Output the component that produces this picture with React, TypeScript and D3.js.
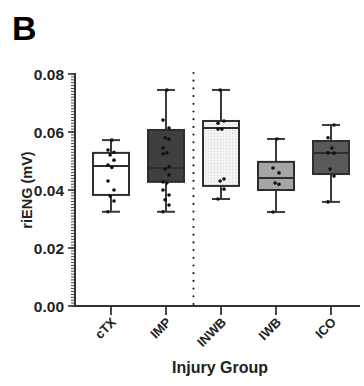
import React, {useRef, useEffect} from 'react'
import * as d3 from 'd3'

// box stats (mV)
const groups = ["cTX", "IMP", "INWB", "IWB", "ICO"]
const mins = [0.0325, 0.0325, 0.0369, 0.0324, 0.0359]
const q1s = [0.0383, 0.0428, 0.0414, 0.0400, 0.0455]
const medians = [0.0483, 0.0476, 0.0614, 0.0441, 0.0528]
const q3s = [0.0528, 0.0607, 0.0638, 0.0497, 0.0569]
const maxs = [0.0572, 0.0745, 0.0745, 0.0576, 0.0624]
const fills = ["#ffffff", "#3f3f3f", "#f1f1f1", "#a5a5a5", "#595959"]

// individual animals
const cTXPts = [0.0325, 0.0362, 0.0379, 0.0400, 0.0431, 0.0478, 0.0486, 0.0503, 0.0521, 0.0530, 0.0538, 0.0572]
const IMPPts = [0.0325, 0.0348, 0.0366, 0.0383, 0.0400, 0.0424, 0.0428, 0.0452, 0.0472, 0.0480, 0.0525, 0.0528, 0.0545, 0.0575, 0.0580, 0.0614, 0.0641, 0.0745]
const INWBPts = [0.0369, 0.0403, 0.0431, 0.0438, 0.0610, 0.0610, 0.0630, 0.0638, 0.0745]
const IWBPts = [0.0324, 0.0420, 0.0424, 0.0459, 0.0476, 0.0576]
const ICOPts = [0.0359, 0.0448, 0.0472, 0.0527, 0.0528, 0.0545, 0.0580, 0.0624]
const points = [cTXPts, IMPPts, INWBPts, IWBPts, ICOPts]

const yTicks = [0, 0.02, 0.04, 0.06, 0.08]

const layout = {width: 364, height: 386, left: 75, right: 360, top: 74, bottom: 306}
const font = '"Liberation Sans", Arial, sans-serif'

export default function App() {
  const ref = useRef<SVGSVGElement>(null)

  useEffect(() => {
    const svg = d3.select(ref.current)
    const g = svg.select("g")
    g.selectAll("*").remove()

    const y = d3.scaleLinear().domain([0, 0.08]).range([layout.bottom, layout.top])
    const x = d3.scalePoint().domain(groups).range([111, 331])
    const boxW = 36

    // separator between control and injury groups
    const sepX = (x("IMP")! + x("INWB")!) / 2
    g.append("line")
      .attr("x1", sepX).attr("x2", sepX)
      .attr("y1", y(0.08) - 1).attr("y2", y(0) - 2)
      .attr("stroke", "#222")
      .attr("stroke-width", 2.2)
      .attr("stroke-linecap", "round")
      .attr("stroke-dasharray", "0 7.7")

    // dotted fill pattern for INWB
    const defs = svg.select("defs")
    defs.selectAll("*").remove()
    const pat = defs.append("pattern")
      .attr("id", "dots").attr("width", 3).attr("height", 3)
      .attr("patternUnits", "userSpaceOnUse")
    pat.append("rect").attr("width", 3).attr("height", 3).attr("fill", "#f3f3f3")
    pat.append("rect").attr("x", 1).attr("y", 1).attr("width", 1).attr("height", 1).attr("fill", "#d8d8d8")

    groups.forEach((grp, i) => {
      const cx = x(grp)!
      const bg = g.append("g")
      // whisker
      bg.append("line")
        .attr("x1", cx).attr("x2", cx)
        .attr("y1", y(mins[i])).attr("y2", y(maxs[i]))
        .attr("stroke", "#3a3a3a").attr("stroke-width", 2)
      ;[mins[i], maxs[i]].forEach(v => {
        bg.append("line")
          .attr("x1", cx - boxW / 4).attr("x2", cx + boxW / 4)
          .attr("y1", y(v)).attr("y2", y(v))
          .attr("stroke", "#3a3a3a").attr("stroke-width", 2)
      })
      bg.append("rect")
        .attr("x", cx - boxW / 2).attr("width", boxW)
        .attr("y", y(q3s[i])).attr("height", y(q1s[i]) - y(q3s[i]))
        .attr("fill", grp === "INWB" ? "url(#dots)" : fills[i])
        .attr("stroke", "#2e2e2e").attr("stroke-width", 2)
      bg.append("line")
        .attr("x1", cx - boxW / 2).attr("x2", cx + boxW / 2)
        .attr("y1", y(medians[i])).attr("y2", y(medians[i]))
        .attr("stroke", "#2e2e2e").attr("stroke-width", 2)

      // points, alternating small horizontal offset so ties don't overlap
      bg.selectAll("circle")
        .data(points[i])
        .join("circle")
        .attr("cx", (d, j) => cx + (j % 2 === 0 ? -3 : 3) * ((j % 3) === 2 ? 0.3 : 1))
        .attr("cy", d => y(d))
        .attr("r", 1.8)
        .attr("fill", "#111")
    })

    // y axis with minor ticks every 0.001
    const minor = d3.range(0, 0.0805, 0.001)
    const ya = g.append("g").attr("transform", `translate(${layout.left},0)`)
    ya.selectAll(".minor")
      .data(minor)
      .join("line")
      .attr("class", "minor")
      .attr("x1", 0).attr("x2", -4)
      .attr("y1", d => y(d)).attr("y2", d => y(d))
      .attr("stroke", "#444").attr("stroke-width", 1)
    ya.selectAll(".major")
      .data(yTicks)
      .join("line")
      .attr("class", "major")
      .attr("x1", 0).attr("x2", -7)
      .attr("y1", d => y(d)).attr("y2", d => y(d))
      .attr("stroke", "#333").attr("stroke-width", 1.6)
    ya.selectAll(".lab")
      .data(yTicks)
      .join("text")
      .attr("class", "lab")
      .attr("x", -11).attr("y", d => y(d))
      .attr("dy", "0.36em")
      .attr("text-anchor", "end")
      .attr("font-family", font).attr("font-weight", "bold").attr("font-size", 15.5)
      .attr("fill", "#222")
      .text(d => d3.format(".2f")(d))
    ya.append("line")
      .attr("x1", 0).attr("x2", 0)
      .attr("y1", y(0.08) - 1).attr("y2", y(0) + 1)
      .attr("stroke", "#333").attr("stroke-width", 2)

    // x axis
    const xa = g.append("g").attr("transform", `translate(0,${layout.bottom})`)
    xa.append("line")
      .attr("x1", layout.left - 1).attr("x2", layout.right)
      .attr("stroke", "#333").attr("stroke-width", 2)
    xa.selectAll(".xt")
      .data(groups)
      .join("line")
      .attr("class", "xt")
      .attr("x1", d => x(d)!).attr("x2", d => x(d)!)
      .attr("y1", 0).attr("y2", 9)
      .attr("stroke", "#333").attr("stroke-width", 1.8)
    xa.selectAll(".xl")
      .data(groups)
      .join("text")
      .attr("class", "xl")
      .attr("transform", d => `translate(${x(d)! + 6},${17}) rotate(-45)`)
      .attr("text-anchor", "end")
      .attr("font-family", font).attr("font-weight", "bold").attr("font-size", 13)
      .attr("fill", "#222")
      .text(d => d)

    // titles
    g.append("text")
      .attr("x", 220).attr("y", 373)
      .attr("text-anchor", "middle")
      .attr("font-family", font).attr("font-weight", "bold").attr("font-size", 16)
      .attr("fill", "#222")
      .text("Injury Group")
    g.append("text")
      .attr("transform", `translate(32,190) rotate(-90)`)
      .attr("text-anchor", "middle")
      .attr("font-family", font).attr("font-weight", "bold").attr("font-size", 14.5)
      .attr("fill", "#222")
      .text("riENG (mV)")
    g.append("text")
      .attr("x", 12).attr("y", 40)
      .attr("font-family", font).attr("font-weight", "bold").attr("font-size", 34)
      .attr("fill", "#000")
      .text("B")
  }, [])

  return (
    <svg ref={ref} width={layout.width} height={layout.height}
         style={{position: 'absolute', left: 0, top: 0, background: '#fff'}}>
      <defs />
      <g />
    </svg>
  )
}
